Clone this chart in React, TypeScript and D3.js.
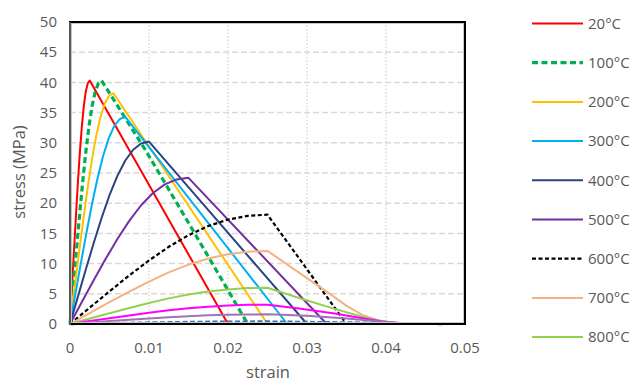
import React from "react";
import * as d3 from "d3";

type Pt = [number, number];

// strain, stress (MPa)
const s20: Pt[] = [[0,0],[0.00025,6.04],[0.0005,12.04],[0.00075,17.89],[0.001,23.43],[0.00125,28.45],[0.0015,32.73],[0.00175,36.12],[0.002,38.5],[0.00225,39.87],[0.0025,40.3],[0.02,0]];
const s100: Pt[] = [[0,0],[0.0004,6.04],[0.0008,12.04],[0.0012,17.89],[0.0016,23.43],[0.002,28.45],[0.0024,32.73],[0.0028,36.12],[0.0032,38.5],[0.0036,39.87],[0.004,40.3],[0.0095,28.9],[0.0148,17.2],[0.0225,0]];
const s200: Pt[] = [[0,0],[0.00055,5.73],[0.0011,11.41],[0.00165,16.96],[0.0022,22.21],[0.00275,26.96],[0.0033,31.03],[0.00385,34.24],[0.0044,36.5],[0.00495,37.79],[0.0055,38.2],[0.025,0]];
const s300: Pt[] = [[0,0],[0.0007,5.14],[0.0014,10.25],[0.0021,15.23],[0.0028,19.94],[0.0035,24.21],[0.0042,27.86],[0.0049,30.74],[0.0056,32.77],[0.0063,33.94],[0.007,34.3],[0.0275,0]];
const s400: Pt[] = [[0,0],[0.001,4.53],[0.002,9.02],[0.003,13.41],[0.004,17.56],[0.005,21.32],[0.006,24.53],[0.007,27.07],[0.008,28.85],[0.009,29.88],[0.01,30.2],[0.03,0]];
const s500: Pt[] = [[0,0],[0.0015,3.63],[0.003,7.23],[0.0045,10.75],[0.006,14.07],[0.0075,17.08],[0.009,19.66],[0.0105,21.69],[0.012,23.12],[0.0135,23.94],[0.015,24.2],[0.0325,0]];
const s600: Pt[] = [[0,0],[0.0025,2.71],[0.005,5.41],[0.0075,8.04],[0.01,10.52],[0.0125,12.78],[0.015,14.7],[0.0175,16.22],[0.02,17.29],[0.0225,17.91],[0.025,18.1],[0.035,0]];
const s700: Pt[] = [[0,0],[0.0025,1.81],[0.005,3.62],[0.0075,5.37],[0.01,7.03],[0.0125,8.54],[0.015,9.83],[0.0175,10.85],[0.02,11.56],[0.0225,11.97],[0.025,12.1],[0.03,7.6],[0.033,4.9],[0.035,3.0],[0.037,1.5],[0.039,0.6],[0.041,0.2],[0.043,0]];
const s800: Pt[] = [[0,0],[0.0025,0.9],[0.005,1.79],[0.0075,2.66],[0.01,3.49],[0.0125,4.24],[0.015,4.87],[0.0175,5.38],[0.02,5.73],[0.0225,5.94],[0.025,6.0],[0.029,4.3],[0.0335,2.5],[0.037,1.2],[0.0395,0.45],[0.042,0.1],[0.044,0]];
const s900: Pt[] = [[0,0],[0.0025,0.48],[0.005,0.96],[0.0075,1.42],[0.01,1.86],[0.0125,2.26],[0.015,2.6],[0.0175,2.87],[0.02,3.06],[0.0225,3.17],[0.025,3.2],[0.029,2.55],[0.0335,1.75],[0.037,0.95],[0.0396,0.4],[0.042,0.1],[0.0445,0]];
const s1000: Pt[] = [[0,0],[0.0025,0.24],[0.005,0.48],[0.0075,0.71],[0.01,0.93],[0.0125,1.13],[0.015,1.3],[0.0175,1.43],[0.02,1.53],[0.0225,1.58],[0.025,1.6],[0.03,1.35],[0.035,0.9],[0.04,0.35],[0.043,0.1],[0.045,0]];
const s1100: Pt[] = [[0,0],[0.005,0.12],[0.01,0.23],[0.015,0.32],[0.02,0.38],[0.025,0.4],[0.035,0.25],[0.0475,0]];

const seriesNames = ["20°C","100°C","200°C","300°C","400°C","500°C","600°C","700°C","800°C","900°C","1000°C","1100°C"];
const seriesData = [s20, s100, s200, s300, s400, s500, s600, s700, s800, s900, s1000, s1100];
const legendCount = 9;

const xTicks = [0, 0.01, 0.02, 0.03, 0.04, 0.05];
const xTickLabels = ["0", "0.01", "0.02", "0.03", "0.04", "0.05"];
const yTicks = [0, 5, 10, 15, 20, 25, 30, 35, 40, 45, 50];

const styles = [
  { color: "#ff0000", width: 2, dash: "" },
  { color: "#00b050", width: 3.2, dash: "6,3.5" },
  { color: "#ffc000", width: 2, dash: "" },
  { color: "#00b0f0", width: 2, dash: "" },
  { color: "#2a4382", width: 2, dash: "" },
  { color: "#7030a0", width: 2, dash: "" },
  { color: "#000000", width: 2.2, dash: "4,2.5" },
  { color: "#f4b183", width: 2, dash: "" },
  { color: "#92d050", width: 2, dash: "" },
  { color: "#ff00ff", width: 2, dash: "" },
  { color: "#a073b3", width: 2, dash: "" },
  { color: "#2e75b6", width: 2.5, dash: "5,2.5" },
];

const FONT = "'Open Sans', sans-serif";
const TXT = "#595959";

export default function App() {
  const L = 70, R = 465, T = 22, B = 324;
  const x = d3.scaleLinear().domain([0, 0.05]).range([L, R]);
  const y = d3.scaleLinear().domain([0, 50]).range([B, T]);
  const line = d3.line<Pt>().x(d => x(d[0])).y(d => y(d[1])).curve(d3.curveLinear);

  return (
    <svg width={633} height={383} style={{ position: "absolute", left: 0, top: 0, background: "#fff" }}>
      <rect x={0} y={0} width={633} height={383} fill="#fff" />
      {yTicks.filter(v => v > 0 && v < 50).map(v => (
        <line key={"h" + v} x1={L} x2={R} y1={y(v)} y2={y(v)} stroke="#d9d9d9" strokeWidth={1.5} strokeDasharray="6,3" />
      ))}
      {xTicks.filter(v => v > 0 && v < 0.05).map(v => (
        <line key={"v" + v} x1={x(v)} x2={x(v)} y1={T} y2={B} stroke="#d9d9d9" strokeWidth={1.5} strokeDasharray="1.5,2" />
      ))}
      {seriesData.map((d, i) => (
        <path key={seriesNames[i]} d={line(d) || ""} fill="none" stroke={styles[i].color}
          strokeWidth={styles[i].width} strokeDasharray={styles[i].dash || undefined} strokeLinejoin="round" />
      ))}
      <rect x={L + 1.5} y={T + 1.5} width={R - L - 3} height={B - T - 3} fill="none" stroke="#c8c8c8" strokeWidth={1} />
      <rect x={L} y={T} width={R - L} height={B - T} fill="none" stroke="#000" strokeWidth={2} />
      <line x1={L} x2={L} y1={T} y2={B + 1} stroke="#595959" strokeWidth={2} />
      {yTicks.map(v => (
        <text key={"yt" + v} x={57} y={y(v)} dy="0.35em" textAnchor="end" fontFamily={FONT} fontSize={15} fill={TXT}>{v}</text>
      ))}
      {xTicks.map((v, i) => (
        <text key={"xt" + v} x={x(v)} y={348} dy="0.35em" textAnchor="middle" fontFamily={FONT} fontSize={15} fill={TXT}>{xTickLabels[i]}</text>
      ))}
      <text x={268} y={372} dy="0.35em" textAnchor="middle" fontFamily={FONT} fontSize={16.5} fill={TXT}>strain</text>
      <text transform={`translate(19,172) rotate(-90)`} dy="0.35em" textAnchor="middle" fontFamily={FONT} fontSize={16.5} fill={TXT}>stress (MPa)</text>
      {seriesNames.slice(0, legendCount).map((n, i) => {
        const ly = 23.5 + i * 39.2;
        return (
          <g key={"lg" + n}>
            <line x1={532} x2={583} y1={ly} y2={ly} stroke={styles[i].color} strokeWidth={styles[i].width}
              strokeDasharray={styles[i].dash || undefined} />
            <text x={588} y={ly} dy="0.35em" fontFamily={FONT} fontSize={15} fill={TXT}>{n}</text>
          </g>
        );
      })}
    </svg>
  );
}
